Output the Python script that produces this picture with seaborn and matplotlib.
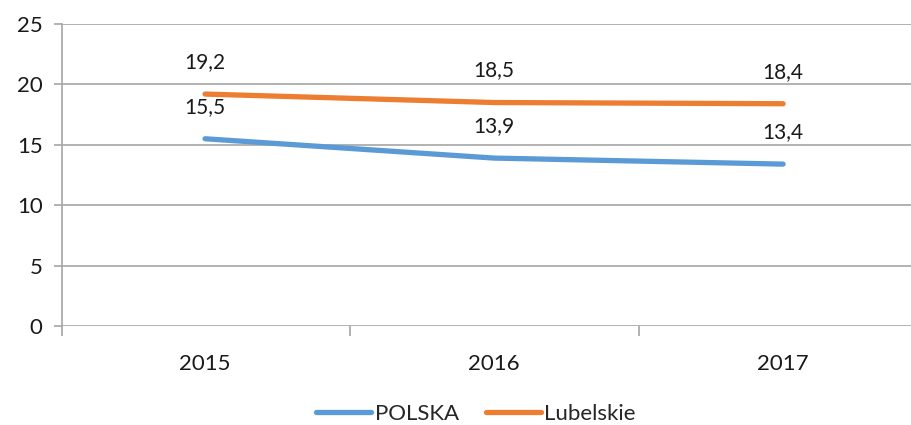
import matplotlib
matplotlib.use("Agg")
import matplotlib.pyplot as plt
import pandas as pd
import seaborn as sns

years = ["2015", "2016", "2017"]
polska = [15.5, 13.9, 13.4]
lubelskie = [19.2, 18.5, 18.4]
series_names = ["POLSKA", "Lubelskie"]
y_ticks = [0, 5, 10, 15, 20, 25]

df = pd.DataFrame({
    "rok": list(range(len(years))) * 2,
    "wartosc": polska + lubelskie,
    "seria": [series_names[0]] * len(years) + [series_names[1]] * len(years),
})

sns.set_style("white")
plt.rcParams["font.family"] = ["Lato", "DejaVu Sans"]

grid_col = "#a6a6a6"
text_col = "#1a1a1a"
palette = {"POLSKA": "#5b9bd5", "Lubelskie": "#ed7d31"}

fig = plt.figure(figsize=(9.12, 4.25), dpi=100)
ax = fig.add_axes([0.068, 0.233, 0.932, 0.7105])

sns.lineplot(data=df, x="rok", y="wartosc", hue="seria", palette=palette,
             linewidth=3.8, ax=ax, legend=True, solid_capstyle="round")

# value labels above points
for name, vals in zip(series_names, [polska, lubelskie]):
    for i, v in enumerate(vals):
        ax.annotate(f"{v:.1f}".replace(".", ","), (i, v), xytext=(0, 23),
                    textcoords="offset points", ha="center", va="center",
                    fontsize=15, color=text_col)

ax.set_ylim(0, 25)
ax.set_yticks(y_ticks)
ax.set_xlim(-0.495, 2.446)
ax.set_xticks(range(len(years)))
ax.set_xticklabels(years)
ax.set_xticks([-0.495, 0.5, 1.5], minor=True)
ax.grid(axis="y", color=grid_col, linewidth=1.2)
ax.set_axisbelow(True)
ax.set_xlabel("")
ax.set_ylabel("")

for s in ["top", "right", "bottom"]:
    ax.spines[s].set_visible(False)
ax.spines["left"].set_color(grid_col)
ax.spines["left"].set_linewidth(1.2)

ax.tick_params(axis="y", which="major", left=True, length=6, width=1.2,
               color=grid_col, labelsize=16, pad=8, labelcolor=text_col)
ax.tick_params(axis="x", which="major", bottom=False, labelsize=16, pad=17,
               labelcolor=text_col)
ax.tick_params(axis="x", which="minor", bottom=True, length=7, width=1.2,
               color=grid_col)

leg = ax.legend(loc="center", bbox_to_anchor=(0.487, -0.29), ncol=2,
                frameon=False, fontsize=16, handlelength=2.5,
                handletextpad=0.15, columnspacing=1.2)
for line in leg.get_lines():
    line.set_linewidth(3.8)
    line.set_solid_capstyle("round")

fig.savefig("out.png", dpi=100)
